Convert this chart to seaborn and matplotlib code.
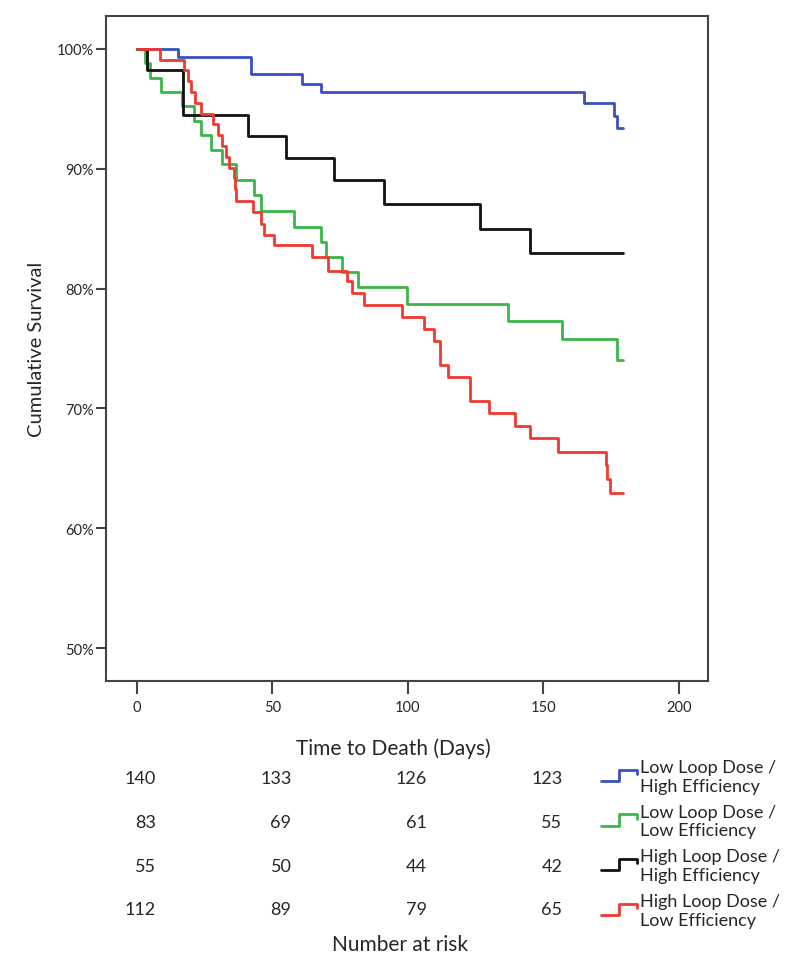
import pandas as pd
import seaborn as sns
import matplotlib.pyplot as plt
from matplotlib.lines import Line2D
from matplotlib.legend_handler import HandlerBase
from matplotlib.ticker import PercentFormatter

# Kaplan-Meier steps (day, cumulative survival %)
groups = ['Low Loop Dose /\nHigh Efficiency', 'Low Loop Dose /\nLow Efficiency',
          'High Loop Dose /\nHigh Efficiency', 'High Loop Dose /\nLow Efficiency']
colors = ['#3a4fc0', '#3cb54a', '#111111', '#f03a2f']

blue_days = [0, 15, 42, 61, 68, 165, 176, 177, 179.5]
blue_surv = [100, 99.3, 97.9, 97.1, 96.4, 95.5, 94.4, 93.4, 93.4]

green_days = [0, 2.9, 4.9, 9, 16.8, 21, 23.8, 27.5, 31.5, 36.5, 43.2, 45.9,
              58, 67.8, 69.6, 75.8, 81.5, 99.5, 136.8, 156.8, 177, 179.5]
green_surv = [100, 98.8, 97.6, 96.4, 95.2, 94.0, 92.8, 91.6, 90.4, 89.1, 87.8, 86.5,
              85.1, 83.9, 82.6, 81.4, 80.1, 78.7, 77.3, 75.8, 74.0, 74.0]

black_days = [0, 3.6, 17, 41, 55, 72.7, 91, 126.7, 145, 179.5]
black_surv = [100, 98.2, 94.5, 92.7, 90.9, 89.1, 87.1, 85.0, 83.0, 83.0]

red_days = [0, 8.7, 17.4, 18.7, 19.9, 21.5, 23.6, 27.9, 29.8, 31.5, 32.8, 34, 35.8,
            36.2, 36.6, 42.8, 45.9, 46.9, 50.6, 64.7, 70.5, 77.6, 79.4, 83.7, 97.8,
            105.8, 109.5, 111.7, 114.8, 122.8, 129.8, 139.6, 144.9, 155.5, 173.1,
            173.6, 174.6, 179.5]
red_surv = [100, 99.1, 98.2, 97.3, 96.4, 95.5, 94.6, 93.7, 92.8, 91.9, 91.0, 90.1, 89.2,
            88.3, 87.3, 86.4, 85.4, 84.5, 83.6, 82.6, 81.5, 80.6, 79.6, 78.6, 77.6,
            76.6, 75.6, 73.6, 72.6, 70.6, 69.6, 68.5, 67.5, 66.4, 65.3,
            64.1, 62.9, 62.9]

risk_days = [0, 50, 100, 150]
risk_blue = [140, 133, 126, 123]
risk_green = [83, 69, 61, 55]
risk_black = [55, 50, 44, 42]
risk_red = [112, 89, 79, 65]

frames = []
for name, d, s in zip(groups, [blue_days, green_days, black_days, red_days],
                      [blue_surv, green_surv, black_surv, red_surv]):
    frames.append(pd.DataFrame({'day': d, 'surv': s, 'group': name}))
df = pd.concat(frames, ignore_index=True)


class StepHandler(HandlerBase):
    # little step glyph like the SPSS legend
    def create_artists(self, legend, orig_handle, xdescent, ydescent,
                       width, height, fontsize, trans):
        lo, hi = 0.15 * height, 1.05 * height
        xs = [0, 0.5 * width, 0.5 * width, width, width]
        ys = [lo, lo, hi, hi, 0.7 * height]
        line = Line2D(xs, ys, color=orig_handle.get_color(), lw=2, transform=trans)
        return [line]


sns.set_style('white')
plt.rcParams['font.family'] = ['Lato', 'DejaVu Sans']

fig = plt.figure(figsize=(8, 9.7), dpi=100)
ax = fig.add_axes([0.1325, 0.2969, 0.7525, 0.6856])

sns.lineplot(data=df, x='day', y='surv', hue='group', palette=colors,
             estimator=None, drawstyle='steps-post', linewidth=2, legend=False, ax=ax)

ax.set_xlim(-11.4, 210.7)
ax.set_ylim(47.25, 102.75)
ax.set_xticks([0, 50, 100, 150, 200])
ax.set_yticks([50, 60, 70, 80, 90, 100])
ax.yaxis.set_major_formatter(PercentFormatter(xmax=100, decimals=0))
ax.tick_params(axis='x', direction='out', length=9, width=1.5, color='#444444',
               labelsize=10.5, pad=5, bottom=True)
ax.tick_params(axis='y', direction='out', length=7, width=1.5, color='#444444',
               labelsize=10.5, pad=2, left=True)
for sp in ax.spines.values():
    sp.set_color('#444444')
    sp.set_linewidth(1.5)

ax.set_xlabel('Time to Death (Days)', fontsize=15)
ax.xaxis.set_label_coords(0.478, -0.085)
ax.set_ylabel('Cumulative Survival', fontsize=14.5)
ax.yaxis.set_label_coords(-0.102, 0.5)

# number at risk table
row_y = [-0.1459, -0.212, -0.2782, -0.3429]
for yy, counts in zip(row_y, [risk_blue, risk_green, risk_black, risk_red]):
    for d, n in zip(risk_days, counts):
        ax.text(d + 7, yy, str(n), transform=ax.get_xaxis_transform(),
                ha='right', va='center', fontsize=13, clip_on=False)
fig.text(0.5, 1 - 945 / 970, 'Number at risk', ha='center', va='center', fontsize=15)

handles = [Line2D([], [], color=c) for c in colors]
leg = fig.legend(handles, groups, handler_map={Line2D: StepHandler()},
                 loc='upper left', bbox_to_anchor=(601 / 800, 1 - 760 / 970),
                 frameon=False, fontsize=13, handlelength=2.0, handletextpad=0.15,
                 labelspacing=0.56, borderaxespad=0, borderpad=0)
for t in leg.get_texts():
    t.set_linespacing(1.2)

fig.savefig('out.png', dpi=100)
